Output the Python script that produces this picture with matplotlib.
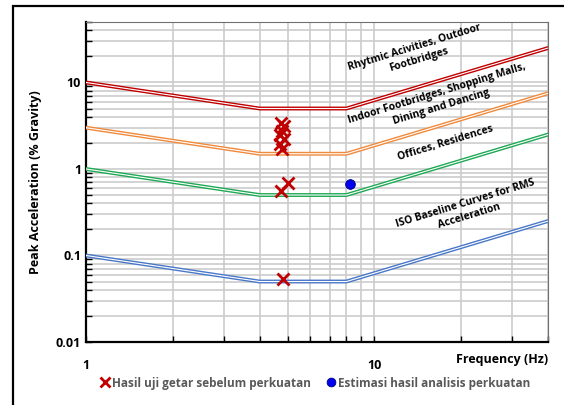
import numpy as np
import matplotlib.pyplot as plt
from matplotlib.patches import Rectangle

# kurva batas ISO (frekuensi Hz, percepatan % g)
freq_curve = [1, 4, 8, 40]
rhythmic = [10, 5, 5, 25]
indoor = [3, 1.5, 1.5, 7.5]
offices = [1, 0.5, 0.5, 2.5]
iso_base = [0.1, 0.05, 0.05, 0.25]

# hasil uji getar sebelum perkuatan
test_freq = [4.75, 4.85, 4.8, 4.72, 4.85, 4.72, 4.8, 5.0, 4.73, 4.84]
test_acc = [3.4, 3.1, 2.75, 2.45, 2.2, 1.95, 1.72, 0.69, 0.56, 0.054]

# estimasi hasil analisis perkuatan
est_freq = [8.26]
est_acc = [0.67]

plt.rcParams['font.family'] = ['Open Sans', 'DejaVu Sans']

fig = plt.figure(figsize=(5.64, 4.05), dpi=100)
ax = fig.add_axes([86 / 564, 1 - 342 / 405, (548 - 86) / 564, (342 - 22) / 405])

curves = [
    (rhythmic, '#C00000'),
    (indoor, '#F08A3C'),
    (offices, '#1FA855'),
    (iso_base, '#4A78C8'),
]
for vals, col in curves:
    ax.plot(freq_curve, vals, color=col, lw=2.8, solid_joinstyle='miter', zorder=3)
    ax.plot(freq_curve, vals, color='white', lw=0.8, zorder=3.1)

ax.plot(test_freq, test_acc, linestyle='none', marker='x', color='#C00000',
        markersize=8, mew=2, zorder=5, label='Hasil uji getar sebelum perkuatan')
ax.plot(est_freq, est_acc, linestyle='none', marker='o', color='#0000EE',
        markeredgecolor='#000080', markersize=7, mew=0.6, zorder=5,
        label='Estimasi hasil analisis perkuatan')

ax.set_xscale('log')
ax.set_yscale('log')
ax.set_xlim(1, 40)
ax.set_ylim(0.01, 50)

ax.grid(True, which='both', color='#cccccc', lw=1.2)
ax.set_axisbelow(True)

ax.set_xticks([1, 10])
ax.set_xticklabels(['1', '10'])
ax.set_yticks([0.01, 0.1, 1, 10])
ax.set_yticklabels(['0.01', '0.1', '1', '10'])
ax.tick_params(which='both', direction='in', length=4, width=1, labelsize=9)
ax.tick_params(axis='x', which='both', pad=12)
for lab in ax.get_xticklabels() + ax.get_yticklabels():
    lab.set_fontweight('bold')

ax.spines['left'].set_linewidth(1.6)
ax.spines['bottom'].set_linewidth(1.6)
ax.spines['top'].set_color('#707070')
ax.spines['right'].set_color('#707070')

ax.set_ylabel('Peak Acceleration (% Gravity)', fontsize=9, fontweight='bold', labelpad=10)
ax.set_xlabel('Frequency (Hz)', fontsize=9, fontweight='bold', ha='right')
ax.xaxis.set_label_coords(1.0, -0.035)
ax.xaxis.label.set_va('top')

rot = 17
kw = dict(fontsize=7.5, fontweight='bold', ha='center', va='center',
          rotation=rot, rotation_mode='anchor', linespacing=1.3)
ax.text(14.0, 21.5, 'Rhytmic Acivities, Outdoor\nFootbridges', **kw)
ax.text(16.8, 6.2, 'Indoor Footbridges, Shopping Malls,\nDining and Dancing', **kw)
ax.text(17.7, 2.0, 'Offices, Residences', **kw)
ax.text(21.0, 0.34, 'ISO Baseline Curves for RMS\nAcceleration', **kw)

leg = fig.legend(loc='center', bbox_to_anchor=(315 / 564, 1 - 383 / 405), ncol=2,
                 frameon=False, fontsize=8.5, handletextpad=0.1, columnspacing=1.2,
                 handlelength=1.0, markerscale=0.9)
for t in leg.get_texts():
    t.set_color('#595959')
    t.set_fontweight('bold')

fig.add_artist(Rectangle((13 / 564, -0.1), 1.2, 1 - 6 / 405 + 0.1, transform=fig.transFigure,
                         fill=False, edgecolor='black', lw=1.6))

fig.savefig('out.png', dpi=100)
